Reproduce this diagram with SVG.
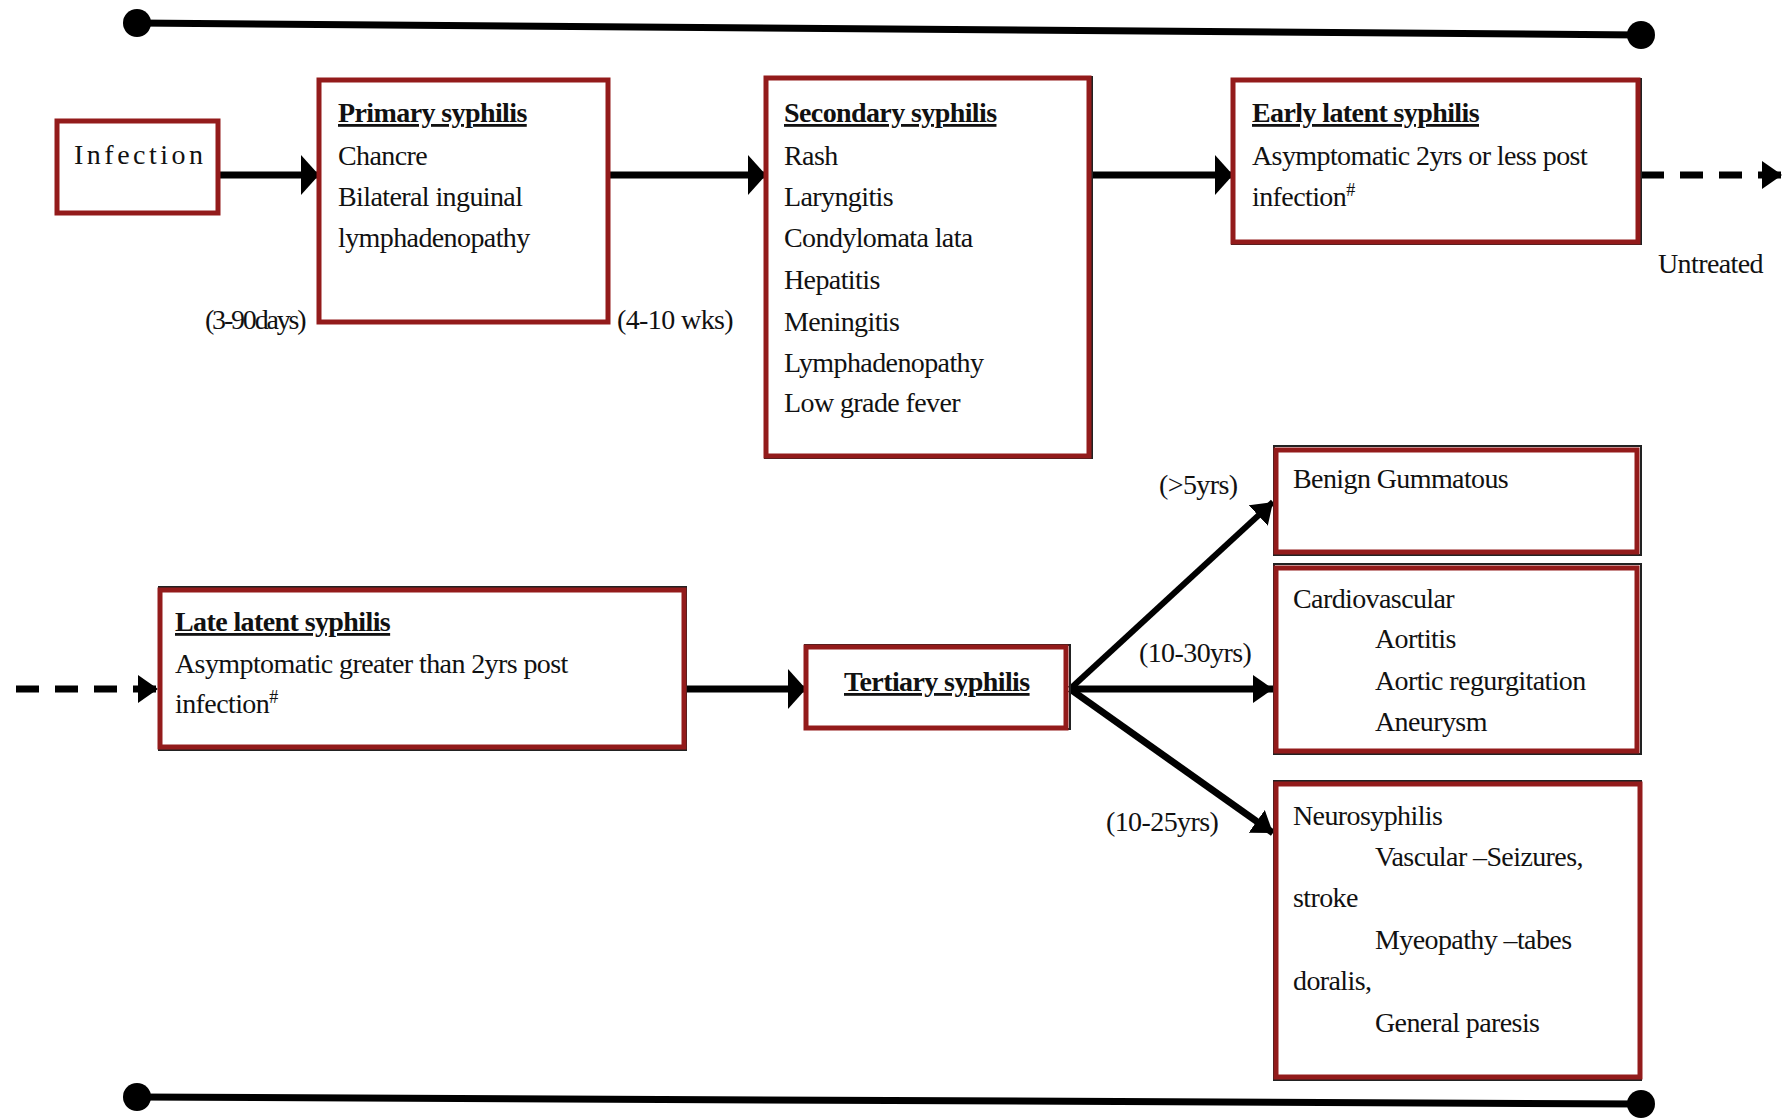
<svg xmlns="http://www.w3.org/2000/svg" width="1789" height="1118" viewBox="0 0 1789 1118">
<style>
.box{fill:#fff;stroke:#931b1b;stroke-width:5}
.shadow{fill:none;stroke:#222;stroke-width:2}
.t{font-family:"Liberation Serif","Times New Roman",serif;font-size:28px;letter-spacing:-0.6px;fill:#111}
.b{font-weight:bold;text-decoration:underline}
.conn{stroke:#000;stroke-width:7;fill:none}
.dash{stroke-dasharray:23 16}
.thin{stroke-width:6}
</style>
<defs>
<marker id="big" markerUnits="userSpaceOnUse" markerWidth="20" markerHeight="42" refX="18" refY="20" orient="auto">
<path d="M0,0 L18,20 L0,40 z" fill="#000"/>
</marker>
<marker id="small" markerUnits="userSpaceOnUse" markerWidth="22" markerHeight="30" refX="20" refY="14" orient="auto">
<path d="M0,0 L20,14 L0,28 z" fill="#000"/>
</marker>
</defs>
<g id="timelines">
<line x1="137" y1="23" x2="1641" y2="35" stroke="#000" stroke-width="7"/>
<circle cx="137" cy="23" r="14" fill="#000"/>
<circle cx="1641" cy="35" r="14" fill="#000"/>
<line x1="137" y1="1097" x2="1641" y2="1104" stroke="#000" stroke-width="7"/>
<circle cx="137" cy="1097" r="14" fill="#000"/>
<circle cx="1641" cy="1104" r="14" fill="#000"/>
</g>
<g id="connectors">
<line class="conn" x1="218" y1="175" x2="319" y2="175" marker-end="url(#big)"/>
<line class="conn" x1="608" y1="175" x2="766" y2="175" marker-end="url(#big)"/>
<line class="conn" x1="1089" y1="175" x2="1233" y2="175" marker-end="url(#big)"/>
<line class="conn dash" x1="1641" y1="175" x2="1782" y2="175" marker-end="url(#small)"/>
<line class="conn dash" x1="16" y1="689" x2="158" y2="689" marker-end="url(#small)"/>
<line class="conn" x1="684" y1="689" x2="806" y2="689" marker-end="url(#big)"/>
<line class="conn thin" x1="1070" y1="689" x2="1273" y2="502" marker-end="url(#small)"/>
<line class="conn" x1="1070" y1="689" x2="1273" y2="689" marker-end="url(#small)"/>
<line class="conn" x1="1070" y1="689" x2="1273" y2="833" marker-end="url(#small)"/>
</g>
<g id="labels">
<text class="t" x="205" y="329" style="letter-spacing:-2.2px">(3-90days)</text>
<text class="t" x="617" y="329">(4-10 wks)</text>
<text class="t" x="1658" y="273">Untreated</text>
<text class="t" x="1159" y="494">(&gt;5yrs)</text>
<text class="t" x="1139" y="662">(10-30yrs)</text>
<text class="t" x="1106" y="831">(10-25yrs)</text>
</g>
<g id="infection">
<rect class="box" x="57" y="121" width="161" height="92"/>
<text class="t" x="74" y="164" style="letter-spacing:3.5px">Infection</text>
</g>
<g id="primary">
<rect class="box" x="319" y="80" width="289" height="242"/>
<text class="t b" x="338" y="122">Primary syphilis</text>
<text class="t" x="338" y="165">Chancre</text>
<text class="t" x="338" y="206">Bilateral inguinal</text>
<text class="t" x="338" y="247">lymphadenopathy</text>
</g>
<g id="secondary">
<rect class="shadow" x="765" y="77" width="327" height="381"/>
<rect class="box" x="766" y="78" width="323" height="378"/>
<text class="t b" x="784" y="122">Secondary syphilis</text>
<text class="t" x="784" y="165">Rash</text>
<text class="t" x="784" y="206">Laryngitis</text>
<text class="t" x="784" y="247">Condylomata lata</text>
<text class="t" x="784" y="289">Hepatitis</text>
<text class="t" x="784" y="331">Meningitis</text>
<text class="t" x="784" y="372">Lymphadenopathy</text>
<text class="t" x="784" y="412">Low grade fever</text>
</g>
<g id="early-latent">
<rect class="shadow" x="1232" y="79" width="409" height="165"/>
<rect class="box" x="1233" y="80" width="405" height="162"/>
<text class="t b" x="1252" y="122">Early latent syphilis</text>
<text class="t" x="1252" y="165">Asymptomatic 2yrs or less post</text>
<text class="t" x="1252" y="206">infection<tspan dy="-10" font-size="18">#</tspan></text>
</g>
<g id="late-latent">
<rect class="shadow" x="159" y="587" width="527" height="163"/>
<rect class="box" x="160" y="590" width="524" height="157"/>
<text class="t b" x="175" y="631">Late latent syphilis</text>
<text class="t" x="175" y="673">Asymptomatic greater than 2yrs post</text>
<text class="t" x="175" y="713">infection<tspan dy="-10" font-size="18">#</tspan></text>
</g>
<g id="tertiary">
<rect class="shadow" x="805" y="645" width="265" height="84"/>
<rect class="box" x="806" y="647" width="260" height="81"/>
<text class="t b" x="844" y="691">Tertiary syphilis</text>
</g>
<g id="benign">
<rect class="shadow" x="1274" y="446" width="367" height="109"/>
<rect class="box" x="1276" y="450" width="361" height="102"/>
<text class="t" x="1293" y="488">Benign Gummatous</text>
</g>
<g id="cardiovascular">
<rect class="shadow" x="1274" y="564" width="367" height="190"/>
<rect class="box" x="1276" y="568" width="361" height="183"/>
<text class="t" x="1293" y="608">Cardiovascular</text>
<text class="t" x="1375" y="648">Aortitis</text>
<text class="t" x="1375" y="690">Aortic regurgitation</text>
<text class="t" x="1375" y="731">Aneurysm</text>
</g>
<g id="neurosyphilis">
<rect class="shadow" x="1274" y="781" width="367" height="299"/>
<rect class="box" x="1276" y="784" width="364" height="293"/>
<text class="t" x="1293" y="825">Neurosyphilis</text>
<text class="t" x="1375" y="866">Vascular –Seizures,</text>
<text class="t" x="1293" y="907">stroke</text>
<text class="t" x="1375" y="949">Myeopathy –tabes</text>
<text class="t" x="1293" y="990">doralis,</text>
<text class="t" x="1375" y="1032">General paresis</text>
</g>
</svg>
